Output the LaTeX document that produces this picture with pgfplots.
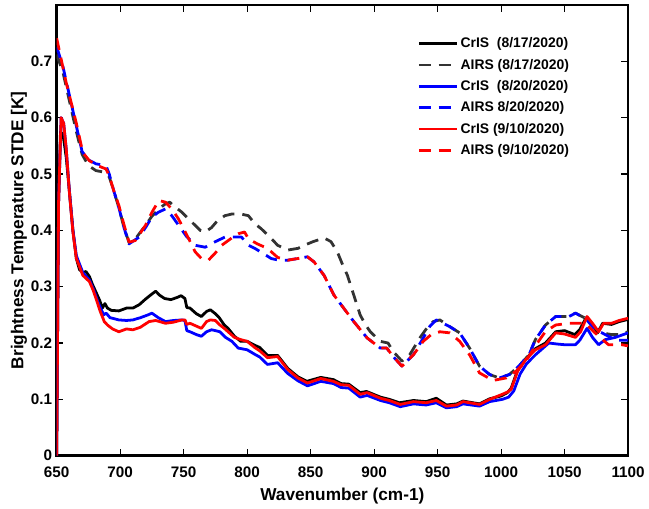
\documentclass[border=0pt]{standalone}
\usepackage{pgfplots}
\pgfplotsset{compat=1.18}
\usepackage{fontspec}
\setmainfont{Liberation Sans}
\definecolor{dgray}{rgb}{0.2,0.2,0.2}
\begin{document}
\begin{tikzpicture}
\begin{axis}[
  name=ax,
  scale only axis,
  width=431pt, height=340pt,
  xmin=650, xmax=1100, ymin=0, ymax=0.8,
  xtick={650,700,...,1100},
  ytick={0,0.1,...,0.7},
  /pgf/number format/assume math mode=true,
  /pgf/number format/set thousands separator={},
  xticklabel style={/pgf/number format/fixed, yshift=-5pt},
  yticklabel style={/pgf/number format/fixed,/pgf/number format/precision=1},
  scaled y ticks=false,
  ticklabel style={font=\fontsize{11.5}{13}\selectfont\bfseries},
  tick align=inside,
  major tick length=5pt,
  tick style={black, line width=0.8pt},
  axis line style={line width=2pt},
  xlabel={Wavenumber (cm-1)},
  ylabel={Brightness Temperature STDE [K]},
  label style={font=\fontsize{13}{15}\selectfont\bfseries},
  xlabel style={yshift=-1pt},
  ylabel style={yshift=-4pt},
  legend style={at={(rel axis cs:0.624,0.94)}, anchor=north west, draw=none, fill=none,
    font=\fontsize{10.5}{12}\selectfont\bfseries, row sep=3pt,
    /tikz/every even column/.append style={column sep=2pt}},
  legend cell align=left,
  legend image code/.code={\draw[#1] (0cm,0cm) -- (1.0cm,0cm);},
  every axis plot/.append style={line width=2.1pt, line join=round},
]
% CrIS 8/17 black
\addplot[black, solid] coordinates {
(650,0) (651.5,0.45) (653,0.575) (655,0.57) (657.5,0.53) (660,0.47) (662.8,0.40) (665.5,0.35) (668,0.33) (671,0.325) (673,0.327) (675.8,0.318) (678,0.305) (681,0.29) (684,0.275) (686,0.262) (688,0.27) (690,0.262) (693,0.258) (699,0.257) (705,0.262) (710,0.262) (715,0.268) (720,0.278) (725,0.287) (728,0.292) (731,0.285) (735,0.279) (740,0.277) (745,0.281) (748,0.284) (751,0.279) (752.5,0.263) (755,0.262) (760,0.252) (764,0.247) (768,0.256) (771,0.259) (775,0.252) (778,0.245) (782,0.232) (785,0.226) (790,0.212) (795,0.203) (800,0.203) (806,0.196) (810,0.192) (816,0.178) (824,0.178) (832,0.155) (840,0.14) (847,0.132) (858,0.139) (868,0.135) (874,0.128) (880,0.127) (889,0.112) (894,0.114) (905,0.104) (912,0.1) (920,0.094) (931,0.098) (941,0.096) (949,0.102) (957,0.09) (965,0.092) (970,0.097) (983,0.092) (991,0.101) (1000,0.106) (1005,0.112) (1008,0.12) (1013,0.152) (1020,0.173) (1027,0.19) (1035,0.2) (1043,0.22) (1050,0.222) (1058,0.215) (1062,0.224) (1067,0.245) (1072,0.232) (1076,0.218) (1080,0.235) (1087,0.233) (1093,0.238) (1100,0.242)
};
\addlegendentry{CrIS\ \ (8/17/2020)}
% AIRS 8/17 dark gray dashed
\addplot[dgray, dash pattern=on 9pt off 6pt] coordinates {
(650,0.712) (655,0.68) (660,0.63) (665,0.58) (670,0.535) (675,0.515) (681,0.506) (688,0.503) (691.4,0.495) (695,0.47) (699,0.44) (703,0.405) (707,0.378) (712,0.385) (720,0.409) (725,0.425) (730.5,0.438) (735,0.446) (739,0.45) (743,0.442) (748.7,0.432) (754,0.42) (759,0.409) (763,0.4) (767,0.397) (772,0.405) (777,0.418) (782.5,0.426) (788,0.429) (795,0.429) (801,0.426) (806,0.412) (811,0.403) (818,0.388) (824,0.3735) (832,0.365) (840,0.368) (845,0.3735) (852,0.38) (860.6,0.3865) (866,0.38) (871,0.362) (875,0.34) (879,0.32) (884,0.285) (889,0.25) (893,0.233) (897,0.22) (904.9,0.203) (911,0.2) (915,0.185) (921.9,0.168) (928,0.179) (936,0.209) (942,0.228) (946.5,0.238) (951.8,0.241) (959.6,0.229) (967.4,0.218) (975.2,0.191) (983,0.159) (991,0.144) (998.7,0.138) (1006.5,0.144) (1014,0.159) (1022,0.179) (1027,0.206) (1035,0.232) (1043,0.247) (1053.4,0.247) (1058.6,0.253) (1066.4,0.244) (1074,0.226) (1079.5,0.218) (1087,0.215) (1093,0.215) (1100,0.22)
};
\addlegendentry{AIRS (8/17/2020)}
% CrIS 8/20 blue
\addplot[blue, solid] coordinates {
(650,0) (651.5,0.45) (653.5,0.6) (655.5,0.59) (657.5,0.545) (660,0.47) (662.8,0.40) (665.5,0.355) (670.6,0.325) (675.8,0.312) (679,0.295) (683,0.27) (687,0.25) (689,0.253) (692,0.245) (699,0.241) (705,0.24) (710,0.241) (716,0.245) (722,0.25) (725,0.253) (730,0.245) (735.7,0.238) (742,0.24) (748.7,0.241) (751,0.24) (752.5,0.222) (755,0.22) (760,0.215) (764,0.212) (768,0.22) (772,0.2235) (775,0.222) (778.6,0.22) (783,0.21) (788,0.203) (793,0.191) (800,0.188) (806,0.18) (810,0.175) (816,0.162) (824,0.165) (832,0.146) (840,0.133) (847.5,0.124) (858,0.132) (868,0.128) (874,0.121) (880,0.12) (889,0.104) (894.5,0.107) (905,0.098) (912,0.094) (920.6,0.087) (931,0.092) (941,0.09) (949,0.094) (957,0.085) (965,0.087) (970,0.092) (983,0.088) (991,0.096) (1001,0.1) (1006,0.104) (1010,0.115) (1015,0.145) (1020,0.163) (1027,0.179) (1037.6,0.2) (1045,0.198) (1050,0.197) (1058.6,0.197) (1062,0.205) (1067.7,0.226) (1072,0.21) (1076.8,0.197) (1082,0.206) (1090,0.21) (1100,0.218)
};
\addlegendentry{CrIS\ \ (8/20/2020)}
% AIRS 8/20 blue dashed
\addplot[blue, dash pattern=on 9pt off 6pt] coordinates {
(650,0.726) (655,0.69) (660,0.64) (665,0.59) (670,0.54) (675,0.525) (681,0.518) (688.8,0.515) (691.4,0.5) (695,0.47) (699,0.44) (703,0.405) (707,0.376) (715,0.388) (720,0.405) (725,0.4235) (730,0.432) (735.7,0.438) (741,0.425) (746,0.409) (752,0.39) (759,0.3735) (767,0.37) (775,0.38) (782.5,0.388) (790,0.388) (795.6,0.388) (801,0.3735) (806,0.368) (812,0.36) (818.9,0.35) (825,0.347) (832,0.347) (840,0.35) (847.5,0.353) (852.7,0.344) (860.6,0.32) (868.4,0.285) (876,0.262) (884,0.238) (894.5,0.209) (904.9,0.191) (910,0.191) (915,0.176) (921.9,0.159) (930.9,0.179) (938.7,0.209) (944,0.23) (949,0.241) (959.6,0.229) (967.4,0.218) (975.2,0.191) (983,0.159) (991,0.144) (998.7,0.138) (1006.5,0.144) (1014,0.159) (1022,0.179) (1027,0.206) (1035,0.232) (1043,0.247) (1053.4,0.247) (1058.6,0.253) (1066.4,0.244) (1074,0.2235) (1079.5,0.218) (1087,0.209) (1093,0.205) (1100,0.205)
};
\addlegendentry{AIRS 8/20/2020)}
% CrIS 9/10 red
\addplot[red, solid] coordinates {
(650,0) (651.5,0.45) (653.5,0.6) (655.5,0.59) (657.5,0.545) (660,0.468) (662.8,0.397) (665.5,0.35) (670.6,0.32) (675.8,0.309) (678.5,0.295) (681,0.279) (684,0.258) (687.5,0.238) (690,0.232) (694,0.225) (699,0.22) (705,0.225) (710,0.2235) (716,0.228) (722.7,0.238) (728,0.24) (735.7,0.235) (742,0.237) (748.7,0.241) (751,0.241) (752.5,0.233) (755,0.235) (760,0.23) (764,0.226) (768,0.238) (771,0.241) (775,0.24) (778,0.233) (782,0.226) (785,0.22) (790,0.21) (795,0.206) (800,0.203) (806,0.192) (810,0.186) (816,0.174) (824,0.176) (832,0.153) (840,0.138) (847.5,0.129) (858,0.137) (868,0.132) (874,0.126) (880,0.125) (889,0.109) (894.5,0.112) (905,0.102) (912,0.098) (920.6,0.091) (931,0.096) (941,0.094) (949,0.098) (957,0.088) (965,0.09) (970,0.096) (983,0.091) (991,0.1) (1001,0.109) (1005,0.113) (1008,0.118) (1013,0.15) (1019.6,0.171) (1027,0.188) (1035,0.197) (1043,0.218) (1050,0.216) (1058.6,0.21) (1062.6,0.22) (1067.7,0.247) (1072,0.235) (1076.8,0.22) (1080.7,0.235) (1087,0.235) (1093,0.24) (1100,0.244)
};
\addlegendentry{CrIS (9/10/2020)}
% AIRS 9/10 red dashed
\addplot[red, dash pattern=on 9pt off 6pt] coordinates {
(650,0.741) (657.5,0.662) (665.4,0.591) (670.6,0.538) (675.8,0.5235) (682,0.515) (688.8,0.509) (691.4,0.497) (695,0.47) (699,0.444) (703,0.41) (707,0.379) (712,0.382) (720,0.409) (725,0.432) (730.5,0.453) (735.7,0.45) (741,0.437) (746,0.42) (754,0.385) (759,0.362) (764,0.35) (769.5,0.347) (775,0.36) (780,0.3735) (787,0.385) (793,0.394) (798,0.397) (801,0.385) (808,0.376) (816,0.368) (824,0.352) (832,0.347) (840,0.35) (847.5,0.353) (852.7,0.344) (860.6,0.32) (868.4,0.285) (876,0.262) (884,0.238) (894.5,0.209) (904.9,0.191) (910,0.191) (915,0.176) (921.9,0.159) (930.9,0.179) (938.7,0.203) (945,0.215) (951.8,0.22) (959.6,0.218) (967.4,0.203) (975.2,0.179) (983,0.147) (993.6,0.1335) (1004,0.138) (1011.8,0.15) (1019.6,0.168) (1027.6,0.197) (1035,0.2205) (1043,0.232) (1053.4,0.235) (1066.4,0.235) (1074,0.218) (1084.6,0.197) (1095,0.197) (1100,0.195)
};
\addlegendentry{AIRS (9/10/2020)}
\end{axis}
\path ([xshift=-42.75pt,yshift=-39pt]ax.south west) rectangle ([xshift=12.75pt,yshift=3.75pt]ax.north east);
\end{tikzpicture}
\end{document}
